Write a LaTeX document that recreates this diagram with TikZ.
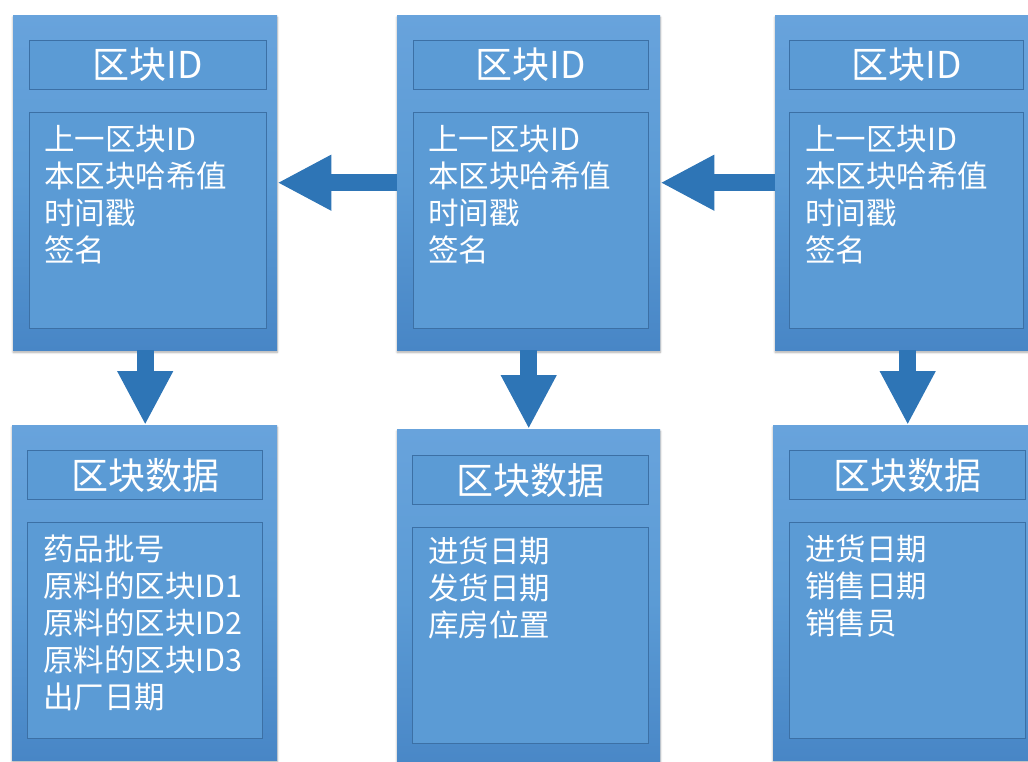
\documentclass[tikz,border=0pt]{standalone}
\usepackage{fontspec}
\setmainfont{Noto Sans CJK SC}
\usetikzlibrary{arrows.meta,shadows.blur}
\definecolor{boxtop}{RGB}{104,163,220}
\definecolor{boxbot}{RGB}{72,134,198}
\definecolor{boxmid}{RGB}{91,155,213}
\definecolor{inline}{RGB}{60,112,165}
\definecolor{arrowblue}{RGB}{46,117,182}
\tikzset{
  outerbox/.style={rectangle, anchor=north west, inner sep=0pt, top color=boxtop, bottom color=boxbot, middle color=boxmid, blur shadow={shadow blur steps=8, shadow xshift=0pt, shadow yshift=-2pt, shadow opacity=35}},
  innerbox/.style={rectangle, anchor=north west, inner sep=0pt, fill=boxmid, draw=inline, line width=1pt},
  titletext/.style={text=white, font=\fontsize{37}{40}\selectfont, inner sep=0pt},
  bodytext/.style={text=white, font=\fontsize{30.5}{37}\selectfont, anchor=north west, align=left, inner sep=0pt},
  bigarrow/.style={draw=arrowblue, line width=17pt, -{Triangle[length=54pt,width=52pt]}},
}
\begin{document}
\begin{tikzpicture}[x=1pt,y=-1pt]
\useasboundingbox (0,0) rectangle (1028,762);
\clip (0,0) rectangle (1028,762);
% top row
\node[outerbox, minimum width=264pt, minimum height=335pt] (t1) at (13,15) {};
\node[outerbox, minimum width=263pt, minimum height=335pt] (t2) at (397,15) {};
\node[outerbox, minimum width=265pt, minimum height=335pt] (t3) at (775,15) {};
% bottom row
\node[outerbox, minimum width=265pt, minimum height=335pt] (d1) at (12,425) {};
\node[outerbox, minimum width=263pt, minimum height=345pt] (d2) at (397,429) {};
\node[outerbox, minimum width=265pt, minimum height=335pt] (d3) at (773,425) {};
% inner boxes top
\node[innerbox, minimum width=237pt, minimum height=49pt] (t1h) at (29,40) {};
\node[innerbox, minimum width=237pt, minimum height=216pt] (t1c) at (29,112) {};
\node[innerbox, minimum width=235pt, minimum height=49pt] (t2h) at (413,40) {};
\node[innerbox, minimum width=235pt, minimum height=216pt] (t2c) at (413,112) {};
\node[innerbox, minimum width=234pt, minimum height=49pt] (t3h) at (789,40) {};
\node[innerbox, minimum width=234pt, minimum height=216pt] (t3c) at (789,112) {};
% inner boxes bottom
\node[innerbox, minimum width=235pt, minimum height=49pt] (d1h) at (27,450) {};
\node[innerbox, minimum width=235pt, minimum height=216pt] (d1c) at (27,522) {};
\node[innerbox, minimum width=236pt, minimum height=49pt] (d2h) at (412,455) {};
\node[innerbox, minimum width=236pt, minimum height=216pt] (d2c) at (412,527) {};
\node[innerbox, minimum width=236pt, minimum height=49pt] (d3h) at (789,450) {};
\node[innerbox, minimum width=236pt, minimum height=216pt] (d3c) at (789,522) {};
% titles
\node[titletext] (t1ht) at (t1h.center) {区块ID};
\node[titletext] (t2ht) at (t2h.center) {区块ID};
\node[titletext] (t3ht) at (t3h.center) {区块ID};
\node[titletext] (d1ht) at (d1h.center) {区块数据};
\node[titletext] (d2ht) at (d2h.center) {区块数据};
\node[titletext] (d3ht) at (d3h.center) {区块数据};
% bodies
\node[bodytext] (t1b) at (44,125) {上一区块ID\\本区块哈希值\\时间戳\\签名};
\node[bodytext] (t2b) at (428,125) {上一区块ID\\本区块哈希值\\时间戳\\签名};
\node[bodytext] (t3b) at (805,125) {上一区块ID\\本区块哈希值\\时间戳\\签名};
\node[bodytext] (d1b) at (43,535) {药品批号\\原料的区块ID1\\原料的区块ID2\\原料的区块ID3\\出厂日期};
\node[bodytext] (d2b) at (428,537) {进货日期\\发货日期\\库房位置};
\node[bodytext] (d3b) at (805,535) {进货日期\\销售日期\\销售员};
% arrows
\draw[bigarrow] (t2.west) -- (t1.east);
\draw[bigarrow] (t3.west) -- (t2.east);
\draw[bigarrow] (t1.south) -- (t1.south |- d1.north);
\draw[bigarrow] (t2.south) -- (t2.south |- d2.north);
\draw[bigarrow] (t3.south) -- (t3.south |- d3.north);
\end{tikzpicture}
\end{document}
